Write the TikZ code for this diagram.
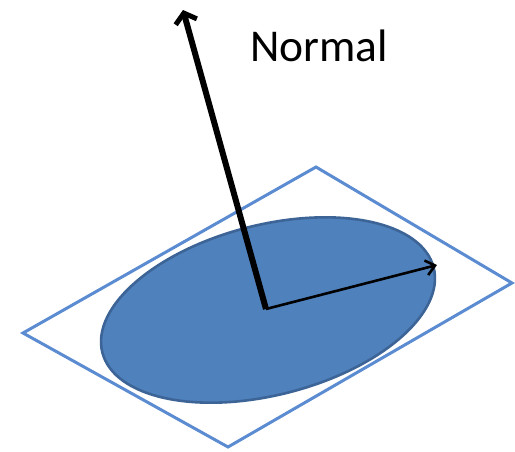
\documentclass[tikz,border=0pt]{standalone}
\usepackage{fontspec}
\setmainfont{Carlito}
\usetikzlibrary{arrows.meta}
\definecolor{plane}{HTML}{5B8BD0}
\definecolor{diskfill}{HTML}{4F81BD}
\definecolor{diskline}{HTML}{3C6496}
\tikzset{
  planeline/.style={draw=plane, line width=3pt, fill=white, line join=miter},
  disk/.style={draw=diskline, line width=2.6pt, fill=diskfill},
  normalarrow/.style={line width=6pt, -{Straight Barb[length=9pt,width=22pt,line width=5pt]}},
  tanarrow/.style={line width=2.6pt, -{Straight Barb[length=9pt,width=15pt,line width=2.6pt]}},
}
\begin{document}
\begin{tikzpicture}[x=1pt,y=-1pt]
\useasboundingbox (0,0) rectangle (515,451);
\coordinate (pl) at (23,333);
\coordinate (pt) at (316,167);
\coordinate (pr) at (512,283);
\coordinate (pb) at (228,447);
\path[planeline] (pl) -- (pt) -- (pr) -- (pb) -- cycle;
\coordinate (c) at (268,310);
\path[disk] (c) ellipse [x radius=171, y radius=85, rotate=14.4];
\coordinate (ntip) at (183,10);
\coordinate (ttip) at (437,265);
\coordinate (o) at (266,309);
\draw[normalarrow] (o) -- (ntip);
\draw[tanarrow] (o) -- (ttip);
\node[font=\fontsize{45.5}{50}\selectfont, inner sep=0pt] (lbl) at (319,46) {Normal};
\end{tikzpicture}
\end{document}
